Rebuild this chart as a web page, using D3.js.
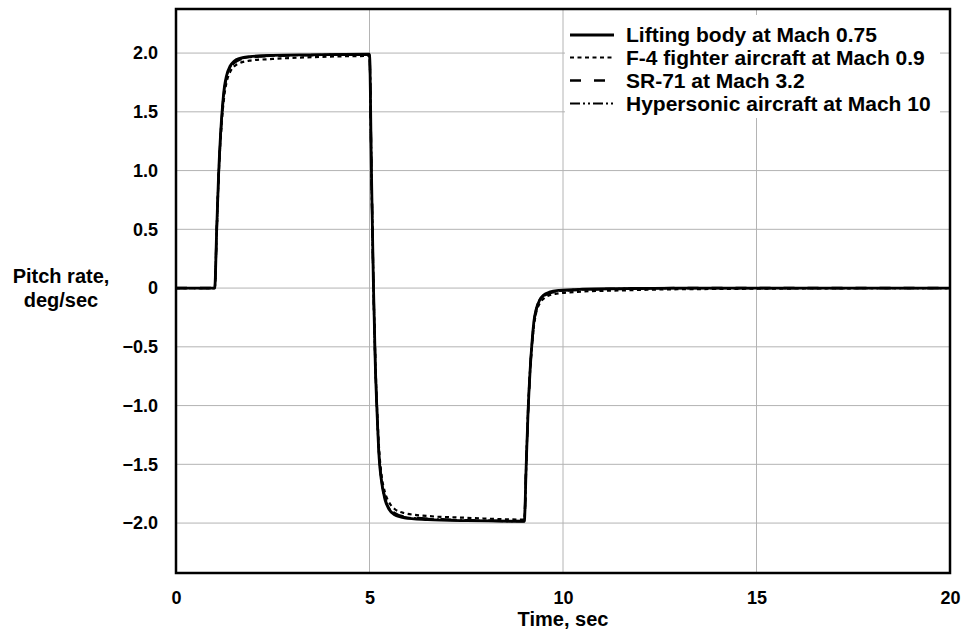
<!DOCTYPE html>
<html>
<head>
<meta charset="utf-8">
<script src="https://cdn.jsdelivr.net/npm/d3@7"></script>
<style>
  body { margin: 0; background: #fff; }
  text { font-family: "Liberation Sans", Arial, sans-serif; font-weight: bold; fill: #000; }
</style>
</head>
<body>
<div id="chart"></div>
<script>
// sample times (sec), shared by all four series
var time = [0, 1.0, 1.05, 1.1, 1.15, 1.2, 1.25, 1.3, 1.4, 1.5, 1.65, 1.9, 2.5, 3.5, 5.0,
  5.05, 5.1, 5.15, 5.2, 5.25, 5.3, 5.4, 5.5, 5.65, 5.9, 6.5, 7.5, 9.0,
  9.05, 9.1, 9.15, 9.2, 9.25, 9.3, 9.4, 9.5, 9.65, 9.9, 10.5, 11.5, 13, 20];

// pitch rate, deg/sec
var liftingBody = [0, 0, 0.48, 0.96, 1.30, 1.54, 1.71, 1.80, 1.89, 1.93, 1.955, 1.97, 1.98, 1.985, 1.99,
  1.0, 0.05, -0.65, -1.10, -1.45, -1.62, -1.80, -1.88, -1.93, -1.955, -1.97, -1.98, -1.985,
  -1.50, -1.03, -0.70, -0.46, -0.28, -0.19, -0.10, -0.06, -0.035, -0.02, -0.01, -0.005, 0, 0];
var f4Fighter = [0, 0, 0.46, 0.92, 1.25, 1.48, 1.64, 1.74, 1.84, 1.885, 1.915, 1.935, 1.95, 1.965, 1.975,
  1.0, 0.08, -0.60, -1.05, -1.38, -1.56, -1.74, -1.82, -1.88, -1.915, -1.94, -1.955, -1.97,
  -1.50, -1.02, -0.70, -0.48, -0.32, -0.22, -0.13, -0.09, -0.06, -0.045, -0.03, -0.02, -0.01, 0];
var sr71 = [0, 0, 0.47, 0.94, 1.28, 1.52, 1.69, 1.78, 1.875, 1.915, 1.945, 1.96, 1.975, 1.982, 1.988,
  1.0, 0.06, -0.63, -1.08, -1.43, -1.60, -1.78, -1.86, -1.915, -1.945, -1.962, -1.975, -1.982,
  -1.50, -1.03, -0.70, -0.47, -0.30, -0.20, -0.11, -0.07, -0.045, -0.03, -0.015, -0.008, 0, 0];
var hypersonic = [0, 0, 0.47, 0.95, 1.29, 1.53, 1.70, 1.79, 1.88, 1.92, 1.95, 1.965, 1.978, 1.984, 1.989,
  1.0, 0.05, -0.64, -1.09, -1.44, -1.61, -1.79, -1.87, -1.92, -1.95, -1.965, -1.978, -1.984,
  -1.50, -1.03, -0.70, -0.46, -0.29, -0.19, -0.10, -0.065, -0.04, -0.025, -0.012, -0.006, 0, 0];

var seriesNames = ["Lifting body at Mach 0.75", "F-4 fighter aircraft at Mach 0.9",
  "SR-71 at Mach 3.2", "Hypersonic aircraft at Mach 10"];
var seriesValues = [liftingBody, f4Fighter, sr71, hypersonic];
var seriesDash = ["none", "4,3.5", "11,13", "10,3,2,3,2,3"];
var seriesWidth = [2.8, 2.2, 2.4, 2.2];

var xTicks = [0, 5, 10, 15, 20];
var yTicks = [-2.0, -1.5, -1.0, -0.5, 0, 0.5, 1.0, 1.5, 2.0];

var W = 964, H = 632;
var margin = {top: 9, right: 14, bottom: 59, left: 176};

var svg = d3.select("#chart").append("svg")
  .attr("width", W).attr("height", H);

var x = d3.scaleLinear().domain([0, 20]).range([margin.left, W - margin.right]);
var y = d3.scaleLinear().domain([-2.425, 2.375]).range([H - margin.bottom, margin.top]);

// grid
svg.append("g").selectAll("line").data(xTicks.slice(1, -1)).enter().append("line")
  .attr("x1", function (d) { return x(d); }).attr("x2", function (d) { return x(d); })
  .attr("y1", y.range()[0]).attr("y2", y.range()[1])
  .attr("stroke", "#b4b4b4").attr("stroke-width", 1);
svg.append("g").selectAll("line").data(yTicks).enter().append("line")
  .attr("x1", x.range()[0]).attr("x2", x.range()[1])
  .attr("y1", function (d) { return y(d); }).attr("y2", function (d) { return y(d); })
  .attr("stroke", "#b4b4b4").attr("stroke-width", 1);

// axes (labels only, no tick marks)
var fmtY = function (d) {
  if (d === 0) return "0";
  return (d < 0 ? "\u2212" : "") + Math.abs(d).toFixed(1);
};
var axX = svg.append("g").attr("transform", "translate(0," + y.range()[0] + ")")
  .call(d3.axisBottom(x).tickValues(xTicks).tickSize(0).tickPadding(18).tickFormat(d3.format("d")));
var axY = svg.append("g").attr("transform", "translate(" + x.range()[0] + ",0)")
  .call(d3.axisLeft(y).tickValues(yTicks).tickSize(0).tickPadding(18).tickFormat(fmtY));
[axX, axY].forEach(function (a) {
  a.select(".domain").remove();
  a.selectAll("text").style("font-size", "18px").style("font-family", "Liberation Sans, Arial, sans-serif")
    .style("font-weight", "bold").attr("fill", "#000");
});

// legend background (covers grid behind it)
svg.append("rect").attr("x", 565).attr("y", 15).attr("width", 375).attr("height", 103).attr("fill", "#fff");

// lines
var line = d3.line()
  .x(function (d, i) { return x(time[i]); })
  .y(function (d) { return y(d); })
  .curve(d3.curveMonotoneX);

seriesValues.forEach(function (vals, k) {
  svg.append("path").datum(vals)
    .attr("d", line)
    .attr("fill", "none")
    .attr("stroke", "#000")
    .attr("stroke-width", seriesWidth[k])
    .attr("stroke-dasharray", seriesDash[k]);
});

// frame
svg.append("rect")
  .attr("x", x.range()[0]).attr("y", y.range()[1])
  .attr("width", x.range()[1] - x.range()[0]).attr("height", y.range()[0] - y.range()[1])
  .attr("fill", "none").attr("stroke", "#000").attr("stroke-width", 2.5);

// legend
var legendY = [35, 57.5, 80.5, 103.5];
var lg = svg.append("g");
seriesNames.forEach(function (name, k) {
  lg.append("line").attr("x1", 570).attr("x2", 614)
    .attr("y1", legendY[k]).attr("y2", legendY[k])
    .attr("stroke", "#000").attr("stroke-width", seriesWidth[k])
    .attr("stroke-dasharray", seriesDash[k]);
  lg.append("text").attr("x", 626).attr("y", legendY[k] + 7)
    .style("font-size", "21px").text(name);
});

// axis titles
svg.append("text").attr("x", (x.range()[0] + x.range()[1]) / 2).attr("y", 626)
  .attr("text-anchor", "middle").style("font-size", "20px").text("Time, sec");
svg.append("text").attr("x", 61).attr("y", 283)
  .attr("text-anchor", "middle").style("font-size", "20px").text("Pitch rate,");
svg.append("text").attr("x", 61).attr("y", 307)
  .attr("text-anchor", "middle").style("font-size", "20px").text("deg/sec");
</script>
</body>
</html>
